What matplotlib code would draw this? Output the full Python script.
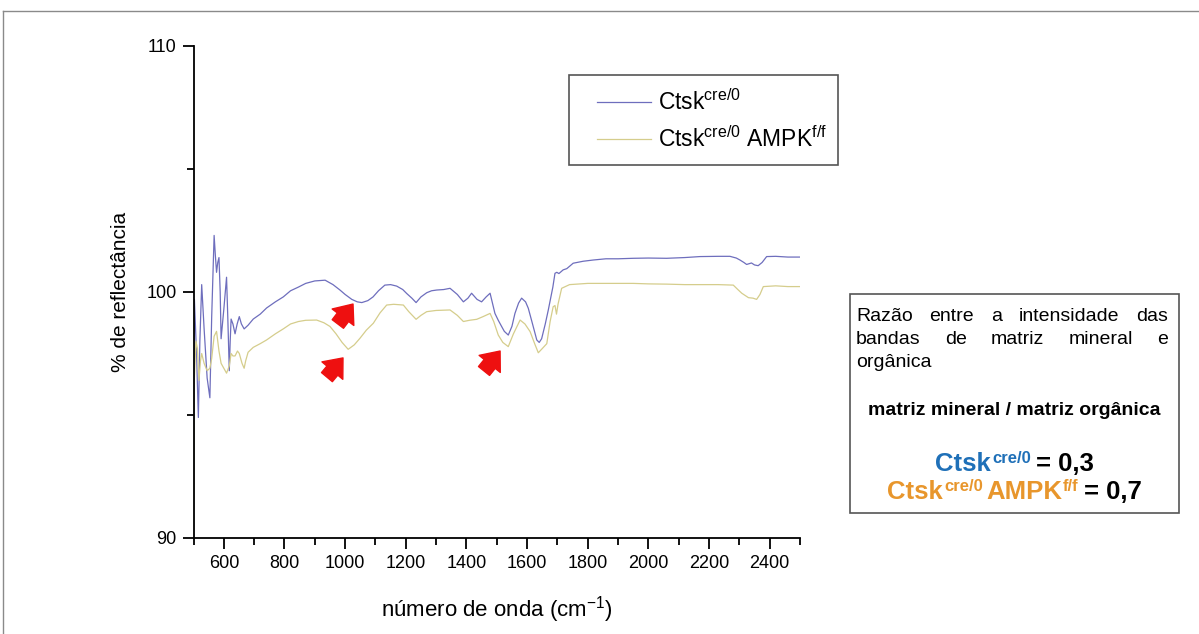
import matplotlib
matplotlib.use("Agg")
import matplotlib.pyplot as plt
from matplotlib.ticker import MultipleLocator
from matplotlib.lines import Line2D
from matplotlib.patches import Rectangle

plt.rcParams["font.family"] = ["Liberation Sans", "DejaVu Sans"]
plt.rcParams["mathtext.default"] = "regular"

# espectro Ctsk cre/0
wn_ctsk = [500, 503, 510, 516, 521, 527, 535, 545, 554, 560, 568, 572, 576, 580, 584, 588,
           591, 600, 609, 613, 618, 621, 624, 630, 637, 644, 651, 658, 667, 680, 697, 720,
           741, 770, 796, 820, 846, 870, 900, 934, 960, 983, 1000, 1022, 1040, 1055, 1075,
           1092, 1110, 1131, 1150, 1170, 1190, 1203, 1220, 1234, 1250, 1269, 1285, 1302,
           1325, 1346, 1370, 1390, 1405, 1417, 1435, 1450, 1465, 1478, 1494, 1505, 1516,
           1525, 1538, 1550, 1560, 1572, 1582, 1595, 1604, 1618, 1632, 1640, 1648, 1660,
           1670, 1685, 1692, 1698, 1705, 1719, 1731, 1752, 1785, 1818, 1860, 1900, 1950,
           2000, 2060, 2120, 2170, 2230, 2269, 2290, 2302, 2315, 2324, 2340, 2350, 2362,
           2375, 2390, 2420, 2460, 2500]
refl_ctsk = [90.0, 99.7, 97.5, 94.9, 98.0, 100.3, 98.5, 96.5, 95.7, 99.0, 102.3, 101.5, 100.8,
             101.2, 101.4, 100.0, 98.1, 99.3, 100.6, 99.0, 96.8, 98.0, 98.9, 98.7, 98.3, 98.7,
             99.0, 98.7, 98.5, 98.65, 98.9, 99.1, 99.35, 99.6, 99.8, 100.05, 100.2, 100.35,
             100.45, 100.48, 100.3, 100.08, 99.9, 99.7, 99.6, 99.57, 99.65, 99.8, 100.05,
             100.28, 100.3, 100.24, 100.1, 99.94, 99.75, 99.57, 99.8, 99.97, 100.05, 100.08,
             100.1, 100.15, 99.9, 99.6, 99.75, 99.95, 99.7, 99.6, 99.8, 99.95, 99.13, 98.85,
             98.6, 98.4, 98.25, 98.6, 99.13, 99.55, 99.75, 99.6, 99.34, 98.7, 98.05, 97.95,
             98.1, 98.7, 99.27, 100.2, 100.76, 100.8, 100.75, 100.9, 100.95, 101.17, 101.25,
             101.3, 101.35, 101.35, 101.37, 101.38, 101.37, 101.4, 101.44, 101.45, 101.45,
             101.38, 101.3, 101.2, 101.12, 101.18, 101.1, 101.07, 101.2, 101.44, 101.45,
             101.42, 101.42]

# espectro Ctsk cre/0 AMPK f/f
wn_ampk = [500, 503, 508, 513, 518, 523, 527, 535, 545, 554, 560, 568, 576, 584, 591, 600,
           609, 618, 624, 630, 637, 645, 651, 660, 667, 672, 680, 697, 720, 741, 770, 796,
           820, 846, 870, 906, 930, 950, 970, 990, 1010, 1030, 1049, 1070, 1093, 1115, 1137,
           1160, 1192, 1210, 1234, 1250, 1269, 1300, 1346, 1370, 1390, 1410, 1434, 1455,
           1478, 1490, 1505, 1520, 1538, 1555, 1577, 1593, 1610, 1625, 1637, 1650, 1665,
           1676, 1686, 1692, 1697, 1702, 1714, 1740, 1764, 1800, 1850, 1900, 1950, 2000,
           2060, 2120, 2170, 2230, 2280, 2295, 2308, 2330, 2345, 2357, 2368, 2379, 2420,
           2460, 2500]
refl_ampk = [90.3, 96.5, 98.0, 97.7, 96.4, 97.2, 97.5, 97.1, 96.8, 96.9, 97.3, 98.2, 98.4,
             97.6, 97.1, 96.9, 96.7, 97.0, 97.5, 97.4, 97.4, 97.6, 97.5, 97.1, 96.9, 97.2,
             97.55, 97.75, 97.9, 98.05, 98.3, 98.5, 98.7, 98.8, 98.85, 98.86, 98.75, 98.6,
             98.3, 97.95, 97.67, 97.85, 98.12, 98.45, 98.73, 99.15, 99.47, 99.5, 99.47, 99.2,
             98.89, 99.05, 99.2, 99.25, 99.27, 99.05, 98.8, 98.85, 98.89, 99.0, 99.13, 98.8,
             98.25, 97.95, 97.78, 98.3, 98.86, 98.7, 98.39, 97.9, 97.53, 97.7, 97.9, 98.8,
             99.4, 99.45, 99.1, 99.5, 100.15, 100.3, 100.32, 100.35, 100.35, 100.35, 100.35,
             100.33, 100.32, 100.3, 100.3, 100.3, 100.28, 100.1, 99.95, 99.77, 99.75, 99.7,
             99.9, 100.22, 100.25, 100.22, 100.22]

# setas vermelhas (ponta, cauda)
arrow_tips = [(1026, 99.51), (993, 97.32), (1511, 97.6)]
arrow_tails = [(976, 98.7), (940, 96.54), (1458, 96.79)]

W, H = 1199, 634
fig = plt.figure(figsize=(W / 100, H / 100), dpi=100)
ax = fig.add_axes([193.5 / W, 1 - 538 / H, 606.5 / W, 492 / H])

ax.plot(wn_ctsk, refl_ctsk, color="#6e6ebd", lw=0.9, label="Ctsk$^{cre/0}$")
ax.plot(wn_ampk, refl_ampk, color="#d5cd8c", lw=0.9, label="Ctsk$^{cre/0}$ AMPK$^{f/f}$")

for tip, tail in zip(arrow_tips, arrow_tails):
    ax.annotate("", xy=tip, xytext=tail,
                arrowprops=dict(arrowstyle="simple,head_length=0.7,head_width=1.15,tail_width=0.6",
                                color="#ee1010", mutation_scale=17, shrinkA=0, shrinkB=0))

ax.set_xlim(500, 2500)
ax.set_ylim(90, 110)
ax.xaxis.set_minor_locator(MultipleLocator(100))
ax.yaxis.set_major_locator(MultipleLocator(10))
ax.yaxis.set_minor_locator(MultipleLocator(5))
ax.set_xticks([600, 800, 1000, 1200, 1400, 1600, 1800, 2000, 2200, 2400])
ax.tick_params(which="major", length=8, width=1.3, labelsize=13, pad=4)
ax.tick_params(which="minor", length=5, width=1.3)
for s in ["top", "right"]:
    ax.spines[s].set_visible(False)
for s in ["left", "bottom"]:
    ax.spines[s].set_linewidth(1.3)

ax.set_xlabel("número de onda (cm$^{-1}$)", fontsize=16, labelpad=16)
ax.set_ylabel("% de reflectância", fontsize=15, labelpad=12)

# legenda sem moldura + moldura desenhada à parte
ax.legend(loc="upper left", bbox_to_anchor=(597 / W, 1 - 89 / H), bbox_transform=fig.transFigure,
          fontsize=16.5, frameon=False, handlelength=2.35, handletextpad=0.3, borderpad=0,
          labelspacing=0.5, borderaxespad=0)
fig.add_artist(Rectangle((569 / W, 1 - 165 / H), 269 / W, 90 / H, transform=fig.transFigure,
                         fill=False, edgecolor="#555555", lw=1.2))

# caixa de texto
fig.add_artist(Rectangle((850 / W, 1 - 513 / H), 329 / W, 219 / H, transform=fig.transFigure,
                         fill=False, edgecolor="#555555", lw=1.2))

r = fig.canvas.get_renderer()


def justified(words, y, left, right, size=14):
    ts = [fig.text(0, 1 - y / H, w, fontsize=size, va="baseline") for w in words]
    ws = [t.get_window_extent(r).width for t in ts]
    gap = (right - left - sum(ws)) / max(len(words) - 1, 1)
    x = left
    for t, w in zip(ts, ws):
        t.set_x(x / W)
        x += w + gap


justified(["Razão", "entre", "a", "intensidade", "das"], 321, 856, 1168)
justified(["bandas", "de", "matriz", "mineral", "e"], 344, 856, 1168)
fig.text(856 / W, 1 - 367 / H, "orgânica", fontsize=14, va="baseline")
fig.text(1014.5 / W, 1 - 415 / H, "matriz mineral / matriz orgânica", fontsize=14,
         weight="bold", ha="center", va="baseline")


def rich_line(parts, y, cx):
    ts = []
    for s, size, color, rise, gap in parts:
        t = fig.text(0, 1 - (y - rise) / H, s, fontsize=size, color=color, weight="bold",
                     va="baseline")
        ts.append((t, t.get_window_extent(r).width, gap))
    total = sum(w + g for _, w, g in ts)
    x = cx - total / 2
    for t, w, g in ts:
        t.set_x(x / W)
        x += w + g


blue_txt, orange_txt = "#1f70b8", "#e8962c"
rich_line([("Ctsk", 18.5, blue_txt, 0, 1), ("cre/0", 12, blue_txt, 8, 5),
           ("= 0,3", 18.5, "black", 0, 0)], 471, 1014.5)
rich_line([("Ctsk", 18.5, orange_txt, 0, 1), ("cre/0", 12, orange_txt, 8, 3),
           ("AMPK", 18.5, orange_txt, 0, 1), ("f/f", 12, orange_txt, 8, 5),
           ("= 0,7", 18.5, "black", 0, 0)], 499, 1014.5)

# moldura da imagem original
fig.add_artist(Line2D([3 / W, 3 / W], [0, 1 - 11 / H], transform=fig.transFigure,
                      color="#8a8a8a", lw=1))
fig.add_artist(Line2D([3 / W, 1], [1 - 11 / H, 1 - 11 / H], transform=fig.transFigure,
                      color="#8a8a8a", lw=1))

fig.savefig("out.png", dpi=100)
